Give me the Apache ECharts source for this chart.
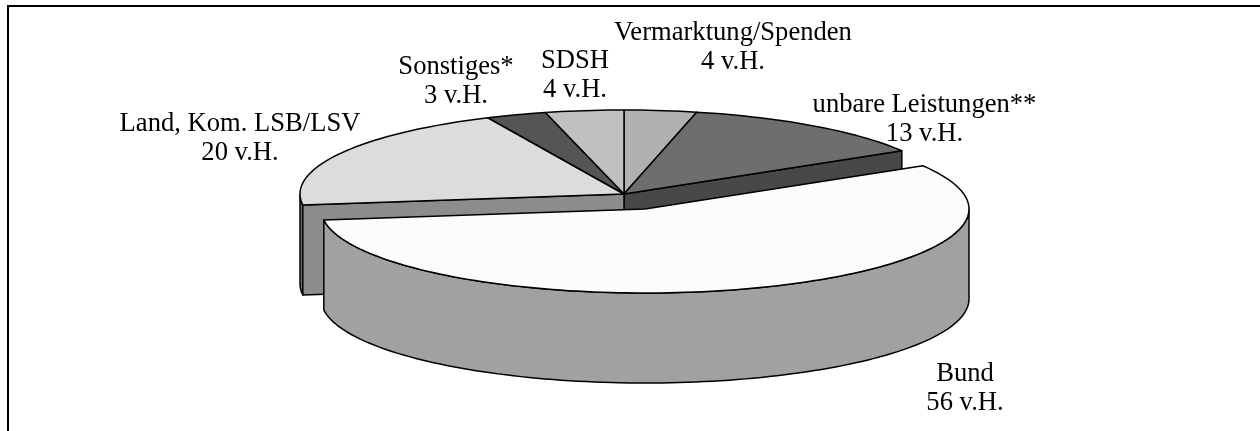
<!DOCTYPE html>
<html><head><meta charset="utf-8">
<style>html,body{margin:0;padding:0;background:#fff}#c{width:1260px;height:431px}</style>
<script src="https://cdn.jsdelivr.net/npm/echarts@6/dist/echarts.min.js"></script>
</head><body><div id="c"></div>
<script>
// Data, clockwise from 12 o'clock
const categories = ["Vermarktung/Spenden", "unbare Leistungen**", "Bund", "Land, Kom. LSB/LSV", "Sonstiges*", "SDSH"];
const shares = [3.6, 12.8, 56.5, 20.2, 3.0, 3.9];
const shareLabels = ["4 v.H.", "13 v.H.", "56 v.H.", "20 v.H.", "3 v.H.", "4 v.H."];

// Styles and layout
const topColors = ["#b0b0b0", "#6e6e6e", "#fcfcfc", "#dcdcdc", "#555555", "#c0c0c0"];
const faceColors = ["#8a8a8a", "#484848", "#a1a1a1", "#8c8c8c", "#444444", "#999999"];
const labelPos = [[733, 48], [924.5, 120], [965, 389], [240, 139], [456, 82], [575, 76]];
const explodedIndex = 2;
const geo = { cx: 624, cy: 194, rx: 324, ry: 84, depth: 90, ex: 21, ey: 15 };
const stroke = { stroke: "#000", lineWidth: 1.5, lineJoin: "round" };

const total = shares.reduce((a, b) => a + b, 0);
let run = 0;
const rows = shares.map((v, i) => { const r = [v, run, i]; run += v; return r; });
// The exploded slice is painted last
const seriesData = rows.filter(r => r[2] !== explodedIndex).concat(rows.filter(r => r[2] === explodedIndex));

function pt(cx, cy, deg) {
  const a = deg * Math.PI / 180;
  return [cx + geo.rx * Math.sin(a), cy - geo.ry * Math.cos(a)];
}
function arc(cx, cy, from, to) {
  const out = [];
  const n = Math.max(2, Math.ceil(Math.abs(to - from) / 1.5));
  for (let k = 0; k <= n; k++) out.push(pt(cx, cy, from + (to - from) * k / n));
  return out;
}
function down(points) { return points.map(p => [p[0], p[1] + geo.depth]); }
function poly(points, fill) {
  return { type: "polygon", shape: { points }, style: Object.assign({ fill }, stroke) };
}

function renderItem(params, api) {
  const value = api.value(0), start = api.value(1), idx = api.value(2);
  const a0 = start / total * 360, a1 = (start + value) / total * 360;
  const ex = idx === explodedIndex;
  const cx = geo.cx + (ex ? geo.ex : 0), cy = geo.cy + (ex ? geo.ey : 0);
  const c = [cx, cy], children = [];

  // Outer wall: only the part facing the viewer (90 to 270 degrees)
  const w0 = Math.max(a0, 90), w1 = Math.min(a1, 270);
  if (w1 > w0) {
    const top = arc(cx, cy, w0, w1);
    children.push(poly(top.concat(down(top).reverse()), idx === 3 ? "#707070" : faceColors[idx]));
  }
  // Cut faces appear only where the neighbouring slice was pulled out
  const n = shares.length;
  [[a0, (idx + n - 1) % n], [a1, (idx + 1) % n]].forEach(function (e) {
    if (!ex && e[1] === explodedIndex) {
      const p = pt(cx, cy, e[0]);
      children.push(poly([c, p, [p[0], p[1] + geo.depth], [cx, cy + geo.depth]], faceColors[idx]));
    }
  });
  children.push(poly([c].concat(arc(cx, cy, a0, a1)), topColors[idx]));
  return { type: "group", children };
}

const chart = echarts.init(document.getElementById("c"), null, { renderer: "canvas" });
chart.setOption({
  animation: false,
  backgroundColor: "#fff",
  graphic: [{
    type: "polyline", silent: true,
    shape: { points: [[8, 431], [8, 6], [1260, 6]] },
    style: { stroke: "#000", lineWidth: 2, fill: null }
  }].concat(categories.map((name, i) => ({
    type: "text", silent: true, z: 10,
    x: labelPos[i][0], y: labelPos[i][1],
    style: {
      text: name + "\n" + shareLabels[i],
      fontFamily: "Liberation Serif", fontSize: 26.6, lineHeight: 29,
      fill: "#000", align: "center", verticalAlign: "middle"
    }
  }))),
  series: [{
    type: "custom",
    coordinateSystem: "none",
    silent: true,
    renderItem,
    data: seriesData
  }]
});
</script></body></html>
